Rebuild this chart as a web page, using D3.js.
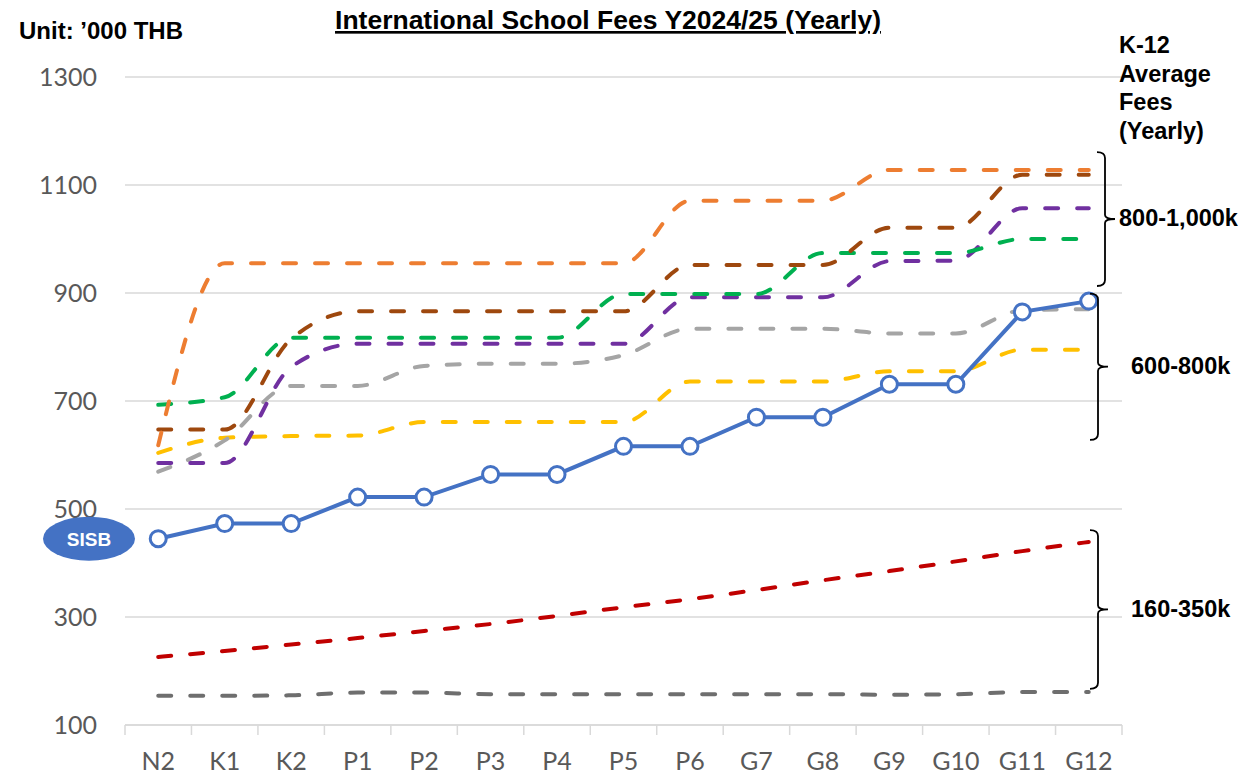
<!DOCTYPE html>
<html>
<head>
<meta charset="utf-8">
<script src="https://cdn.jsdelivr.net/npm/d3@7"></script>
<style>
  body { margin: 0; background: #fff; }
  svg { display: block; }
</style>
</head>
<body>
<div id="chart"></div>
<script>
// grades along the x axis
const grades = ['N2', 'K1', 'K2', 'P1', 'P2', 'P3', 'P4', 'P5', 'P6', 'G7', 'G8', 'G9', 'G10', 'G11', 'G12'];
const yTicks = [100, 300, 500, 700, 900, 1100, 1300];

// fees in '000 THB
const sisb      = [445, 473, 473, 522, 522, 564, 564, 616, 616, 670, 670, 731, 731, 865, 885];
const orange    = [618, 955, 955, 955, 955, 955, 955, 955, 1071, 1071, 1071, 1128, 1128, 1128, 1128];
const brown     = [647, 647, 815, 866, 866, 866, 866, 866, 952, 952, 952, 1021, 1021, 1119, 1119];
const green     = [693, 707, 817, 817, 817, 817, 817, 898, 898, 898, 974, 974, 974, 1000, 1000];
const purple    = [585, 585, 763, 806, 806, 806, 806, 806, 892, 892, 892, 959, 960, 1057, 1057];
const gray      = [569, 627, 728, 728, 765, 769, 769, 785, 834, 834, 834, 825, 825, 868, 870];
const yellow    = [604, 632, 635, 636, 661, 661, 661, 661, 736, 736, 736, 755, 755, 795, 795];
const red       = [226, 237, 249, 261, 274, 287, 302, 318, 333, 350, 368, 385, 403, 422, 439];
const darkGray  = [154, 154, 155, 160, 160, 157, 157, 157, 157, 157, 157, 156, 157, 161, 161];

const dashedSeries = [
  { values: red,      color: '#C00000' },
  { values: darkGray, color: '#6E6E6E' },
  { values: yellow,   color: '#FFC000' },
  { values: gray,     color: '#A5A5A5' },
  { values: purple,   color: '#7030A0' },
  { values: green,    color: '#00B050' },
  { values: brown,    color: '#9E480E' },
  { values: orange,   color: '#ED7D31' }
];

// fee bands on the right
const bandLabels = ['800-1,000k', '600-800k', '160-350k'];
const bandHigh   = [1161, 899, 461];
const bandLow    = [913, 628, 167];

const W = 1247, H = 777;
const margin = { top: 77, right: 125, bottom: 52, left: 125 };
const boldFont = 'Liberation Sans, Arial, sans-serif';

const svg = d3.select('#chart').append('svg')
  .attr('width', W)
  .attr('height', H);

const x = d3.scaleBand()
  .domain(grades)
  .range([margin.left, W - margin.right]);

const y = d3.scaleLinear()
  .domain([100, 1300])
  .range([H - margin.bottom, margin.top]);

// gridlines
svg.append('g')
  .selectAll('line')
  .data(yTicks)
  .enter().append('line')
  .attr('x1', margin.left)
  .attr('x2', W - margin.right)
  .attr('y1', d => y(d))
  .attr('y2', d => y(d))
  .attr('stroke', '#D9D9D9')
  .attr('stroke-width', 1.5);

// y labels
svg.append('g')
  .selectAll('text')
  .data(yTicks)
  .enter().append('text')
  .attr('x', 97)
  .attr('y', d => y(d) + 9)
  .attr('text-anchor', 'end')
  .attr('font-family', 'Lato, sans-serif')
  .attr('font-size', '25px')
  .attr('fill', '#595959')
  .text(d => d);

// x axis with ticks between categories
const gx = svg.append('g')
  .attr('transform', `translate(0,${y(100)})`);
gx.append('line')
  .attr('x1', margin.left)
  .attr('x2', W - margin.right)
  .attr('stroke', '#D9D9D9')
  .attr('stroke-width', 1.5);
gx.selectAll('.sep')
  .data(grades.concat(['end']))
  .enter().append('line')
  .attr('class', 'sep')
  .attr('x1', (d, i) => margin.left + i * x.step())
  .attr('x2', (d, i) => margin.left + i * x.step())
  .attr('y1', 0)
  .attr('y2', 10)
  .attr('stroke', '#D9D9D9')
  .attr('stroke-width', 1.5);

svg.append('g')
  .selectAll('text')
  .data(grades)
  .enter().append('text')
  .attr('x', d => x(d) + x.bandwidth() / 2)
  .attr('y', 770)
  .attr('text-anchor', 'middle')
  .attr('font-family', 'Lato, sans-serif')
  .attr('font-size', '25px')
  .attr('fill', '#595959')
  .text(d => d);

const cx = (d, i) => x(grades[i]) + x.bandwidth() / 2;
const line = d3.line()
  .x(cx)
  .y(d => y(d))
  .curve(d3.curveMonotoneX);

// dashed comparison schools
dashedSeries.forEach(s => {
  svg.append('path')
    .datum(s.values)
    .attr('d', line)
    .attr('fill', 'none')
    .attr('stroke', s.color)
    .attr('stroke-width', 4)
    .attr('stroke-linecap', 'round')
    .attr('stroke-dasharray', '13,19');
});

// SISB
svg.append('path')
  .datum(sisb)
  .attr('d', d3.line().x(cx).y(d => y(d)))
  .attr('fill', 'none')
  .attr('stroke', '#4472C4')
  .attr('stroke-width', 4);

svg.append('g')
  .selectAll('circle')
  .data(sisb)
  .enter().append('circle')
  .attr('cx', cx)
  .attr('cy', d => y(d))
  .attr('r', 8)
  .attr('fill', '#fff')
  .attr('stroke', '#4472C4')
  .attr('stroke-width', 3);

svg.append('ellipse')
  .attr('cx', 89)
  .attr('cy', y(sisb[0]))
  .attr('rx', 46)
  .attr('ry', 22)
  .attr('fill', '#4472C4');
svg.append('text')
  .attr('x', 89)
  .attr('y', y(sisb[0]) + 7)
  .attr('text-anchor', 'middle')
  .attr('font-family', boldFont)
  .attr('font-weight', 'bold')
  .attr('font-size', '19px')
  .attr('fill', '#fff')
  .text('SISB');

// brackets
const bx = [1105, 1098, 1098];
const lx = [1119, 1131, 1131];
bandLabels.forEach((lab, i) => {
  const t = y(bandHigh[i]), b = y(bandLow[i]), m = (t + b) / 2, x0 = bx[i];
  const p = `M${x0 - 8},${t} Q${x0},${t} ${x0},${t + 6} L${x0},${m - 4} Q${x0},${m} ${x0 + 10},${m}` +
            ` M${x0 + 10},${m} Q${x0},${m} ${x0},${m + 4} L${x0},${b - 6} Q${x0},${b} ${x0 - 8},${b}`;
  svg.append('path')
    .attr('d', p)
    .attr('fill', 'none')
    .attr('stroke', '#000')
    .attr('stroke-width', 1.8);
  svg.append('text')
    .attr('x', lx[i])
    .attr('y', m - 1)
    .attr('dy', '0.35em')
    .attr('font-family', boldFont)
    .attr('font-weight', 'bold')
    .attr('font-size', '23.5px')
    .attr('fill', '#000')
    .text(lab);
});

// titles
svg.append('text')
  .attr('x', 608)
  .attr('y', 29)
  .attr('text-anchor', 'middle')
  .attr('font-family', boldFont)
  .attr('font-weight', 'bold')
  .attr('font-size', '26.5px')
  .attr('text-decoration', 'underline')
  .attr('fill', '#000')
  .text('International School Fees Y2024/25 (Yearly)');

svg.append('text')
  .attr('x', 19)
  .attr('y', 39)
  .attr('font-family', boldFont)
  .attr('font-weight', 'bold')
  .attr('font-size', '24px')
  .attr('fill', '#000')
  .text('Unit: \u2019000 THB');

const side = svg.append('text')
  .attr('font-family', boldFont)
  .attr('font-weight', 'bold')
  .attr('font-size', '23.5px')
  .attr('fill', '#000');
['K-12', 'Average', 'Fees', '(Yearly)'].forEach((t, i) => {
  side.append('tspan').attr('x', 1119).attr('y', 53 + i * 28.5).text(t);
});
</script>
</body>
</html>
